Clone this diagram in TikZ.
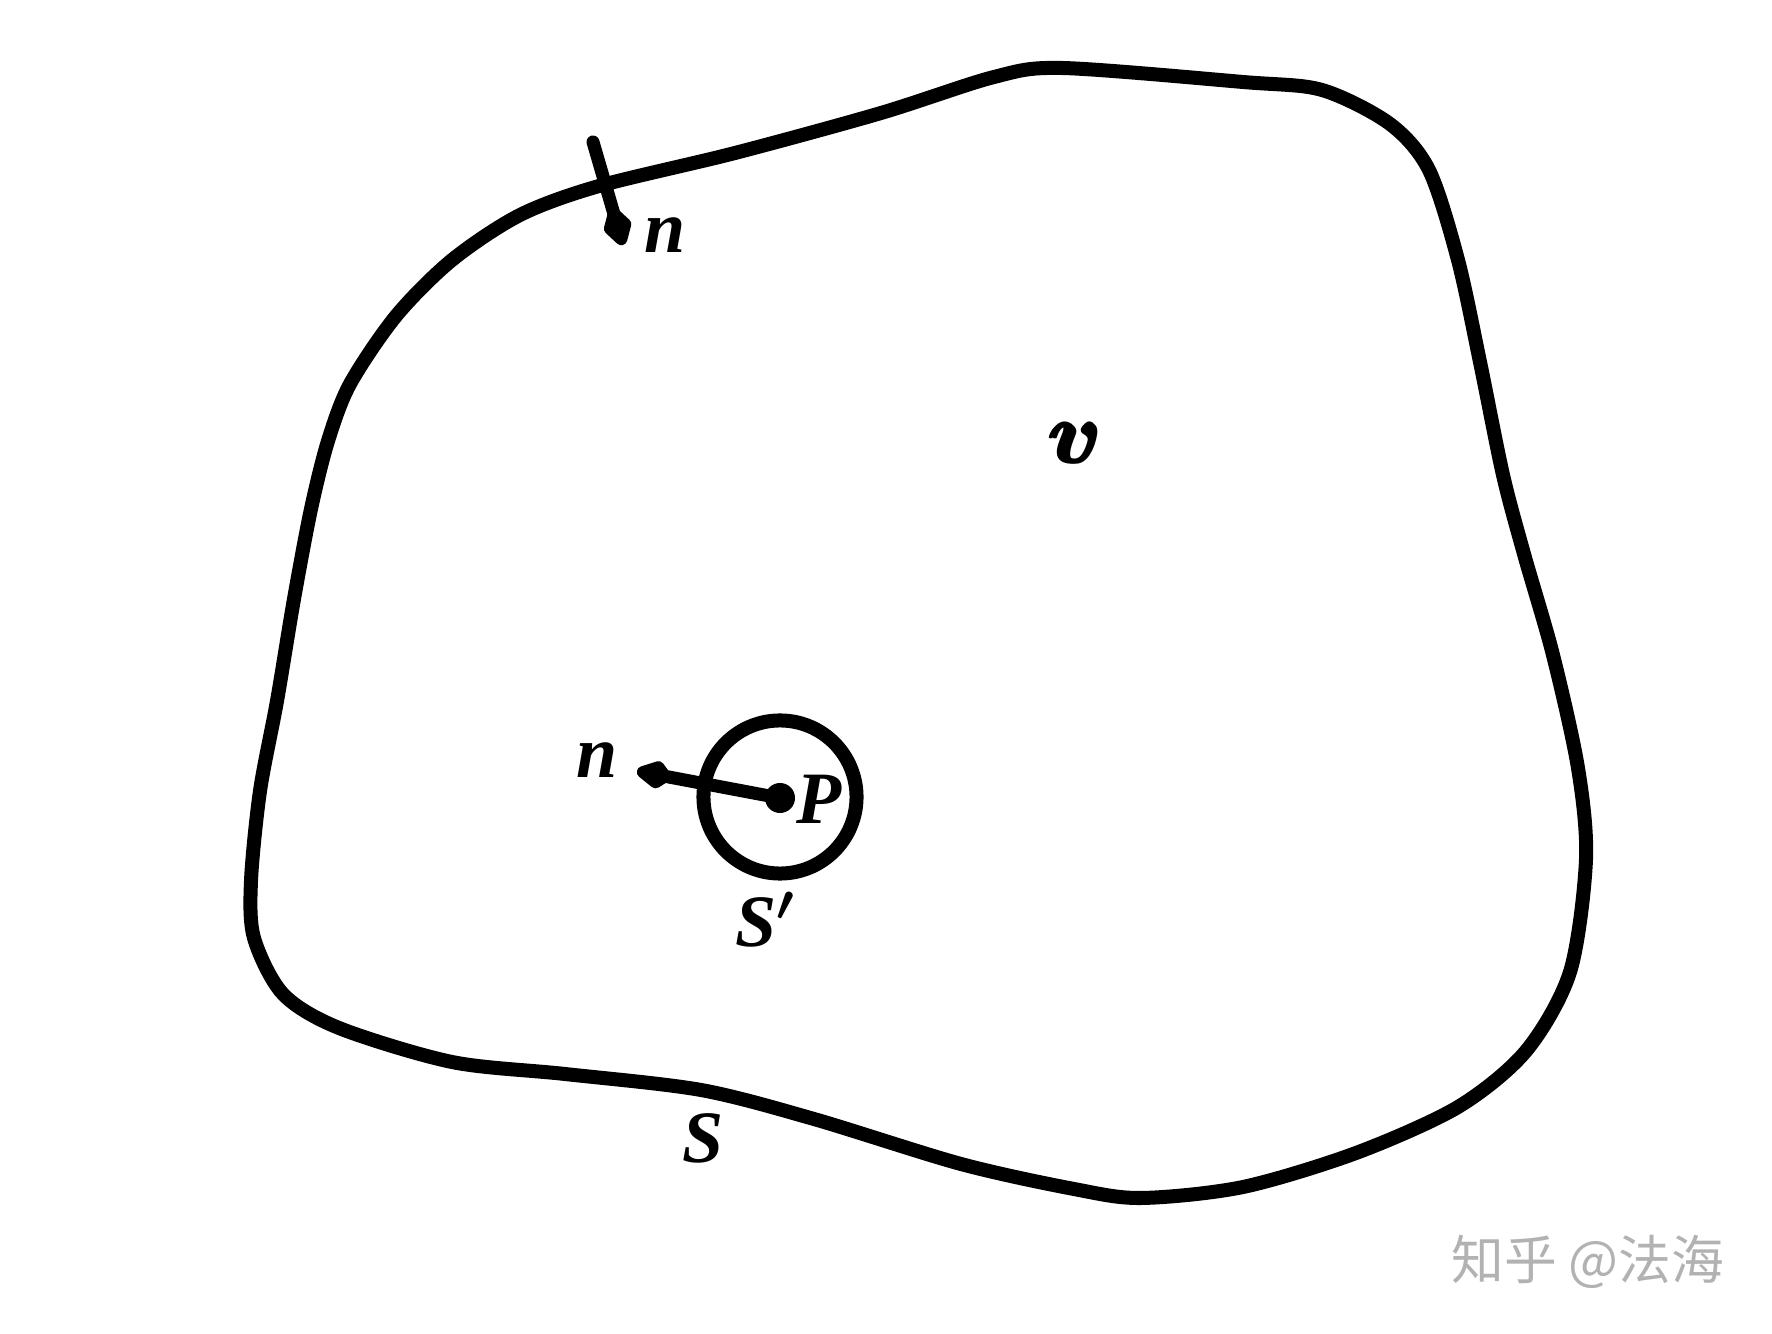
\documentclass[tikz,border=0pt]{standalone}
\usepackage{amsmath}
\usepackage{fontspec}
\usepackage{bm}
\setmainfont{Liberation Serif}
\newfontfamily\cjk{Noto Sans CJK SC}
\usetikzlibrary{arrows.meta}
\tikzset{
  curve/.style={line width=0.14cm, line join=round},
  vec/.style={line width=0.13cm, line cap=round},
  lbl/.style={font=\fontsize{21}{25}\selectfont\bfseries\itshape, inner sep=0pt},
  wm/.style={font=\fontsize{15}{18}\selectfont\cjk, text=black!30, inner sep=0pt}
}
\begin{document}
\begin{tikzpicture}[x=0.01cm,y=-0.01cm]
\useasboundingbox (0,0) rectangle (1772,1334);
% outer surface S
\draw[curve] plot[smooth cycle, tension=0.5] coordinates {
(599,186) (735,153) (881,113) (994,77) (1062,68) (1243,82) (1322,90) (1390,124)
(1429,170) (1458,260) (1480,362) (1503,475) (1524,554) (1553,655) (1578,768)
(1586,859) (1570,972) (1526,1051) (1458,1107) (1356,1153) (1243,1187) (1141,1198)
(1074,1189) (961,1164) (814,1119) (701,1090) (565,1074) (452,1062) (339,1028)
(283,994) (254,938) (251,881) (260,791) (277,701) (294,599) (311,509) (328,441)
(350,384) (396,316) (452,260) (520,215)};
% normal at the outer surface
\coordinate (t1) at (593,142);
\coordinate (t2) at (623,245);
\draw[vec, -{Kite[length=0.5cm,width=0.3cm,inset=0.25cm,round]}] (t1) -- (t2);
\node[lbl] (n1) at (665,235) {n};
% small sphere S'
\node[circle, draw, line width=0.14cm, minimum size=1.53cm, inner sep=0pt] (Sp) at (780,797) {};
\node[circle, fill, minimum size=0.3cm, inner sep=0pt] (P) at (780,798) {};
\coordinate (t3) at (637,771);
\draw[vec, -{Kite[length=0.44cm,width=0.3cm,inset=0.16cm,round]}] (P.center) -- (t3);
\node[lbl] (n2) at (597,760) {n};
\node[lbl] (Plbl) at (819,799) {P};
\node[lbl] (Splbl) at (766,920) {S$\bm{'}$};
\node[lbl, font=\fontsize{27}{30}\selectfont\boldmath] (vlbl) at (1077,443) {$\pmb{v}$};
\node[lbl] (Slbl) at (703,1138) {S};
\node[wm] (wm) at (1588,1262) {知乎 @法海};
\end{tikzpicture}
\end{document}
